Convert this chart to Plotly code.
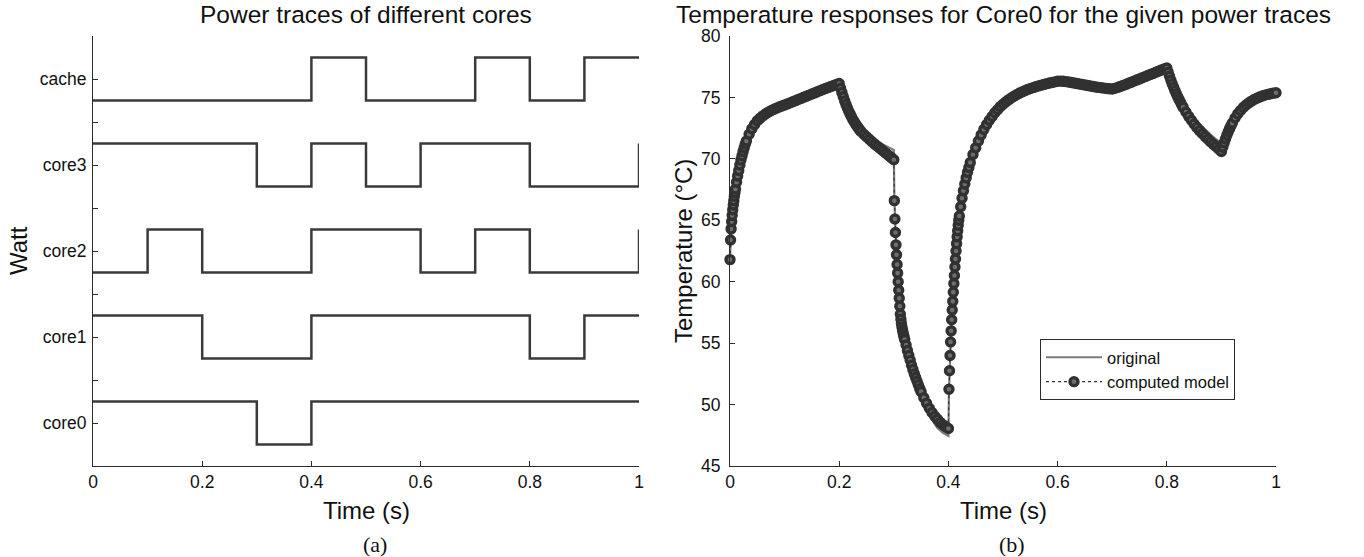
import plotly.graph_objects as go

W, H = 1364, 557

# ---------------- Panel (a): power traces ----------------
step_times = [0.0, 0.1, 0.2, 0.3, 0.4, 0.5, 0.6, 0.7, 0.8, 0.9, 1.0]
core_names = ["core0", "core1", "core2", "core3", "cache"]
core0_state = [1, 1, 1, 0, 1, 1, 1, 1, 1, 1, 1]
core1_state = [1, 1, 0, 0, 1, 1, 1, 1, 0, 1, 1]
core2_state = [0, 1, 0, 0, 1, 1, 0, 1, 0, 0, 1]
core3_state = [1, 1, 1, 0, 1, 0, 1, 1, 0, 0, 1]
cache_state = [0, 0, 0, 0, 1, 0, 0, 1, 0, 1, 1]
trace_low_level = [0.5, 2.5, 4.5, 6.5, 8.5]
watt_tickvals = [0, 1, 2, 3, 4, 5, 6, 7, 8, 9, 10]
watt_ticktext = ["", "core0", "", "core1", "", "core2", "", "core3", "", "cache", ""]
time_ticks = [0, 0.2, 0.4, 0.6, 0.8, 1.0]
time_ticktext = ["0", "0.2", "0.4", "0.6", "0.8", "1"]

# ---------------- Panel (b): temperature of Core0 ----------------
t_model = [
    0.0, 0.001, 0.002, 0.003, 0.004, 0.005, 0.006, 0.007, 0.008, 0.009, 0.010,
    0.012, 0.014, 0.016, 0.018, 0.020, 0.022, 0.024, 0.026, 0.028, 0.030,
    0.035, 0.040, 0.045, 0.050, 0.055, 0.060, 0.065, 0.070, 0.075, 0.080,
    0.085, 0.090, 0.095, 0.100, 0.105, 0.110, 0.115, 0.120, 0.125, 0.130,
    0.135, 0.140, 0.145, 0.150, 0.155, 0.160, 0.165, 0.170, 0.175, 0.180,
    0.185, 0.190, 0.195, 0.200,
    0.2025, 0.205, 0.2075, 0.210, 0.2125, 0.215, 0.2175, 0.220, 0.2225, 0.225,
    0.2275, 0.230, 0.2325, 0.235, 0.2375, 0.240, 0.245, 0.250, 0.255, 0.260,
    0.265, 0.270, 0.275, 0.280, 0.285, 0.290, 0.295, 0.300,
    0.301, 0.302, 0.303, 0.304, 0.305, 0.306, 0.307, 0.308, 0.309, 0.310,
    0.311, 0.312, 0.313, 0.314, 0.315, 0.316, 0.317, 0.318, 0.319, 0.320,
    0.3225, 0.325, 0.3275, 0.330, 0.3325, 0.335, 0.3375, 0.340, 0.3425, 0.345,
    0.3475, 0.350, 0.355, 0.360, 0.365, 0.370, 0.375, 0.380, 0.385, 0.390,
    0.395, 0.400,
    0.401, 0.402, 0.403, 0.404, 0.405, 0.406, 0.407, 0.408, 0.409, 0.410,
    0.411, 0.412, 0.413, 0.414, 0.415, 0.416, 0.417, 0.418, 0.419, 0.420,
    0.4225, 0.425, 0.4275, 0.430, 0.4325, 0.435, 0.4375, 0.440, 0.445, 0.450,
    0.455, 0.460, 0.465, 0.470, 0.475, 0.480, 0.485, 0.490, 0.495, 0.500,
    0.505, 0.510, 0.515, 0.520, 0.525, 0.530, 0.535, 0.540, 0.545, 0.550,
    0.555, 0.560, 0.565, 0.570, 0.575, 0.580, 0.585, 0.590, 0.595, 0.600,
    0.605, 0.610, 0.615, 0.620, 0.625, 0.630, 0.635, 0.640, 0.645, 0.650,
    0.655, 0.660, 0.665, 0.670, 0.675, 0.680, 0.685, 0.690, 0.695, 0.700,
    0.705, 0.710, 0.715, 0.720, 0.725, 0.730, 0.735, 0.740, 0.745, 0.750,
    0.755, 0.760, 0.765, 0.770, 0.775, 0.780, 0.785, 0.790, 0.795, 0.800,
    0.8025, 0.805, 0.8075, 0.810, 0.8125, 0.815, 0.8175, 0.820, 0.8225, 0.825,
    0.8275, 0.830, 0.835, 0.840, 0.845, 0.850, 0.855, 0.860, 0.865, 0.870,
    0.875, 0.880, 0.885, 0.890, 0.895, 0.900,
    0.9025, 0.905, 0.9075, 0.910, 0.9125, 0.915, 0.9175, 0.920, 0.925, 0.930,
    0.935, 0.940, 0.945, 0.950, 0.955, 0.960, 0.965, 0.970, 0.975, 0.980,
    0.985, 0.990, 0.995, 1.000,
]
temp_model = [
    61.8, 63.4, 64.3, 64.9, 65.4, 65.85, 66.25, 66.6, 66.95, 67.25, 67.55,
    68.1, 68.6, 69.05, 69.5, 69.9, 70.25, 70.6, 70.9, 71.2, 71.45,
    72.0, 72.45, 72.8, 73.1, 73.3, 73.5, 73.65, 73.8, 73.92, 74.03,
    74.13, 74.22, 74.3, 74.38, 74.47, 74.56, 74.65, 74.74, 74.83, 74.92,
    75.01, 75.1, 75.19, 75.28, 75.37, 75.46, 75.55, 75.64, 75.73, 75.81,
    75.89, 75.97, 76.05, 76.13,
    75.75, 75.4, 75.05, 74.72, 74.42, 74.14, 73.88, 73.64, 73.42, 73.21,
    73.02, 72.84, 72.67, 72.51, 72.36, 72.22, 72.0, 71.8, 71.6, 71.4,
    71.2, 71.02, 70.84, 70.66, 70.48, 70.3, 70.12, 69.93,
    66.6, 65.1, 64.0, 63.0, 62.2, 61.4, 60.7, 60.0, 59.3, 58.65,
    58.0, 57.35, 56.95, 56.6, 56.3, 56.05, 55.85, 55.65, 55.45, 55.3,
    54.85, 54.4, 54.0, 53.6, 53.2, 52.85, 52.5, 52.2, 51.9, 51.6,
    51.3, 51.05, 50.55, 50.1, 49.7, 49.35, 49.05, 48.8, 48.55, 48.35,
    48.2, 48.05,
    51.25, 52.75, 54.0, 55.1, 56.0, 56.9, 57.7, 58.4, 59.15, 59.85,
    60.5, 61.2, 61.85, 62.5, 63.1, 63.65, 64.15, 64.6, 65.0, 65.35,
    66.1, 66.8, 67.4, 67.95, 68.45, 68.9, 69.3, 69.7, 70.35, 70.9,
    71.45, 71.95, 72.4, 72.8, 73.15, 73.45, 73.75, 74.0, 74.25, 74.45,
    74.63, 74.8, 74.95, 75.1, 75.22, 75.34, 75.45, 75.55, 75.64, 75.72,
    75.8, 75.87, 75.94, 76.0, 76.06, 76.12, 76.17, 76.22, 76.27, 76.32,
    76.33, 76.32, 76.29, 76.25, 76.21, 76.17, 76.13, 76.09, 76.05, 76.01,
    75.97, 75.93, 75.89, 75.85, 75.82, 75.79, 75.76, 75.73, 75.71, 75.69,
    75.74, 75.82, 75.9, 75.98, 76.06, 76.15, 76.24, 76.33, 76.42, 76.51,
    76.6, 76.69, 76.78, 76.87, 76.96, 77.05, 77.14, 77.23, 77.32, 77.4,
    77.05, 76.72, 76.4, 76.1, 75.82, 75.55, 75.29, 75.05, 74.82, 74.6,
    74.39, 74.19, 73.81, 73.46, 73.14, 72.84, 72.56, 72.3, 72.06, 71.83,
    71.61, 71.4, 71.2, 71.0, 70.8, 70.6,
    70.95, 71.3, 71.62, 71.92, 72.2, 72.46, 72.7, 72.92, 73.32, 73.66,
    73.94, 74.18, 74.38, 74.55, 74.7, 74.83, 74.94, 75.04, 75.12, 75.19,
    75.25, 75.3, 75.34, 75.38,
]

t_orig = [
    0.0, 0.001, 0.002, 0.004, 0.006, 0.008, 0.010, 0.015, 0.020, 0.025, 0.030,
    0.040, 0.050, 0.060, 0.070, 0.080, 0.090, 0.100, 0.120, 0.140, 0.160,
    0.180, 0.200, 0.205, 0.210, 0.215, 0.220, 0.230, 0.240, 0.250, 0.260,
    0.270, 0.280, 0.290, 0.300, 0.301, 0.302, 0.304, 0.306, 0.308, 0.310,
    0.312, 0.315, 0.320, 0.325, 0.330, 0.335, 0.340, 0.345, 0.350, 0.360,
    0.370, 0.380, 0.390, 0.400, 0.401, 0.402, 0.404, 0.406, 0.408, 0.410,
    0.415, 0.420, 0.425, 0.430, 0.440, 0.450, 0.460, 0.470, 0.480, 0.490,
    0.500, 0.520, 0.540, 0.560, 0.580, 0.600, 0.620, 0.640, 0.660, 0.680,
    0.700, 0.720, 0.740, 0.760, 0.780, 0.800, 0.805, 0.810, 0.815, 0.820,
    0.830, 0.840, 0.850, 0.860, 0.870, 0.880, 0.890, 0.900, 0.905, 0.910,
    0.915, 0.920, 0.930, 0.940, 0.950, 0.960, 0.970, 0.980, 0.990, 1.000,
]
temp_orig = [
    61.8, 63.5, 64.4, 65.5, 66.35, 67.0, 67.6, 68.85, 69.9, 70.8, 71.45,
    72.45, 73.1, 73.5, 73.8, 74.03, 74.22, 74.38, 74.74, 75.1, 75.46,
    75.81, 76.13, 75.45, 74.8, 74.25, 73.78, 73.05, 72.42, 72.0, 71.7,
    71.43, 71.18, 70.94, 70.72, 66.8, 65.2, 63.1, 61.5, 60.1, 58.75,
    57.5, 56.3, 55.15, 54.2, 53.35, 52.6, 51.9, 51.25, 50.65, 49.6,
    48.75, 48.1, 47.7, 47.45, 50.9, 52.5, 54.9, 56.7, 58.3, 59.75,
    63.0, 65.3, 66.8, 67.95, 69.7, 70.9, 71.95, 72.8, 73.45, 74.0,
    74.45, 75.1, 75.55, 75.87, 76.12, 76.32, 76.25, 76.09, 75.93, 75.79,
    75.69, 75.98, 76.33, 76.69, 77.05, 77.4, 76.8, 76.25, 75.75, 75.3,
    74.5, 73.88, 73.33, 72.83, 72.38, 71.97, 71.6, 71.25, 71.65, 72.05,
    72.47, 72.92, 73.66, 74.18, 74.55, 74.83, 75.04, 75.19, 75.3, 75.38,
]
temp_ticks = [45, 50, 55, 60, 65, 70, 75, 80]

# ---------------- Styling ----------------
SANS = "Liberation Sans, Arial, Helvetica, sans-serif"
SERIF = "Liberation Serif, Times New Roman, serif"
INK = "#2b2b2b"
TRACE = "#3a3a3a"


def px_x(p):
    return p / W


def px_y(p):
    return 1 - p / H


fig = go.Figure()

states = [core0_state, core1_state, core2_state, core3_state, cache_state]
for name, st, low in zip(core_names, states, trace_low_level):
    fig.add_trace(go.Scatter(
        x=step_times, y=[low + s for s in st], mode="lines",
        line=dict(shape="hv", color=TRACE, width=2.5),
        name=name, showlegend=False, hoverinfo="skip",
        xaxis="x", yaxis="y", cliponaxis=False,
    ))

fig.add_trace(go.Scatter(
    x=t_orig, y=temp_orig, mode="lines", name="original",
    line=dict(color="#7c7c7c", width=2.2),
    xaxis="x2", yaxis="y2", cliponaxis=False,
))
fig.add_trace(go.Scatter(
    x=t_model, y=temp_model, mode="lines+markers", name="computed model",
    line=dict(color="#333333", width=1.2, dash="dot"),
    marker=dict(symbol="circle", size=8, color="#6e6e6e",
                line=dict(color="#313131", width=3.4)),
    xaxis="x2", yaxis="y2", cliponaxis=False,
))

axis_common = dict(
    showline=True, linecolor=INK, linewidth=1, mirror=False,
    ticks="inside", ticklen=5, tickwidth=1, tickcolor=INK,
    showgrid=False, zeroline=False, automargin=False,
    tickfont=dict(family=SANS, size=17.5, color="#111111"),
)

ydom = [px_y(466), px_y(36)]

fig.update_layout(
    width=W, height=H,
    margin=dict(l=0, r=0, t=0, b=0, pad=0, autoexpand=False),
    paper_bgcolor="white", plot_bgcolor="white",
    showlegend=True,
    xaxis=dict(domain=[px_x(93), px_x(639)], range=[0, 1], anchor="y",
               tickvals=time_ticks, ticktext=time_ticktext, **axis_common),
    yaxis=dict(domain=ydom, range=[0, 10], anchor="x",
               tickvals=watt_tickvals, ticktext=watt_ticktext,
               ticklabelstandoff=2, **axis_common),
    xaxis2=dict(domain=[px_x(730), px_x(1276)], range=[0, 1], anchor="y2",
                tickvals=time_ticks, ticktext=time_ticktext, **axis_common),
    yaxis2=dict(domain=ydom, range=[45, 80], anchor="x2",
                tickvals=temp_ticks, ticklabelstandoff=5, **axis_common),
    legend=dict(x=px_x(1040), y=px_y(339), xanchor="left", yanchor="top",
                bgcolor="white", bordercolor=INK, borderwidth=1,
                font=dict(family=SANS, size=16.5, color="#111111"),
                itemwidth=56, tracegroupgap=0),
)

title_font = dict(family=SANS, size=24.5, color="#111111")
label_font = dict(family=SANS, size=24, color="#111111")
annotations = [
    dict(text="Power traces of different cores", x=px_x(366), y=px_y(14), font=title_font),
    dict(text="Temperature responses for Core0 for the given power traces",
         x=px_x(1003), y=px_y(14), font=title_font),
    dict(text="Time (s)", x=px_x(366), y=px_y(510), font=label_font),
    dict(text="Time (s)", x=px_x(1003), y=px_y(510), font=label_font),
    dict(text="Watt", x=px_x(18), y=px_y(251), textangle=-90, font=label_font),
    dict(text="Temperature (°C)", x=px_x(683), y=px_y(251), textangle=-90, font=label_font),
]
for a in annotations:
    fig.add_annotation(xref="paper", yref="paper", showarrow=False,
                       xanchor="center", yanchor="middle", **a)

for txt, cx in [("(a)", 375), ("(b)", 1012)]:
    fig.add_annotation(text=txt, x=px_x(cx), y=px_y(544), xref="paper", yref="paper",
                       showarrow=False, xanchor="center", yanchor="middle",
                       font=dict(family=SERIF, size=22, color="#111111"))

fig.write_html("out.html")
